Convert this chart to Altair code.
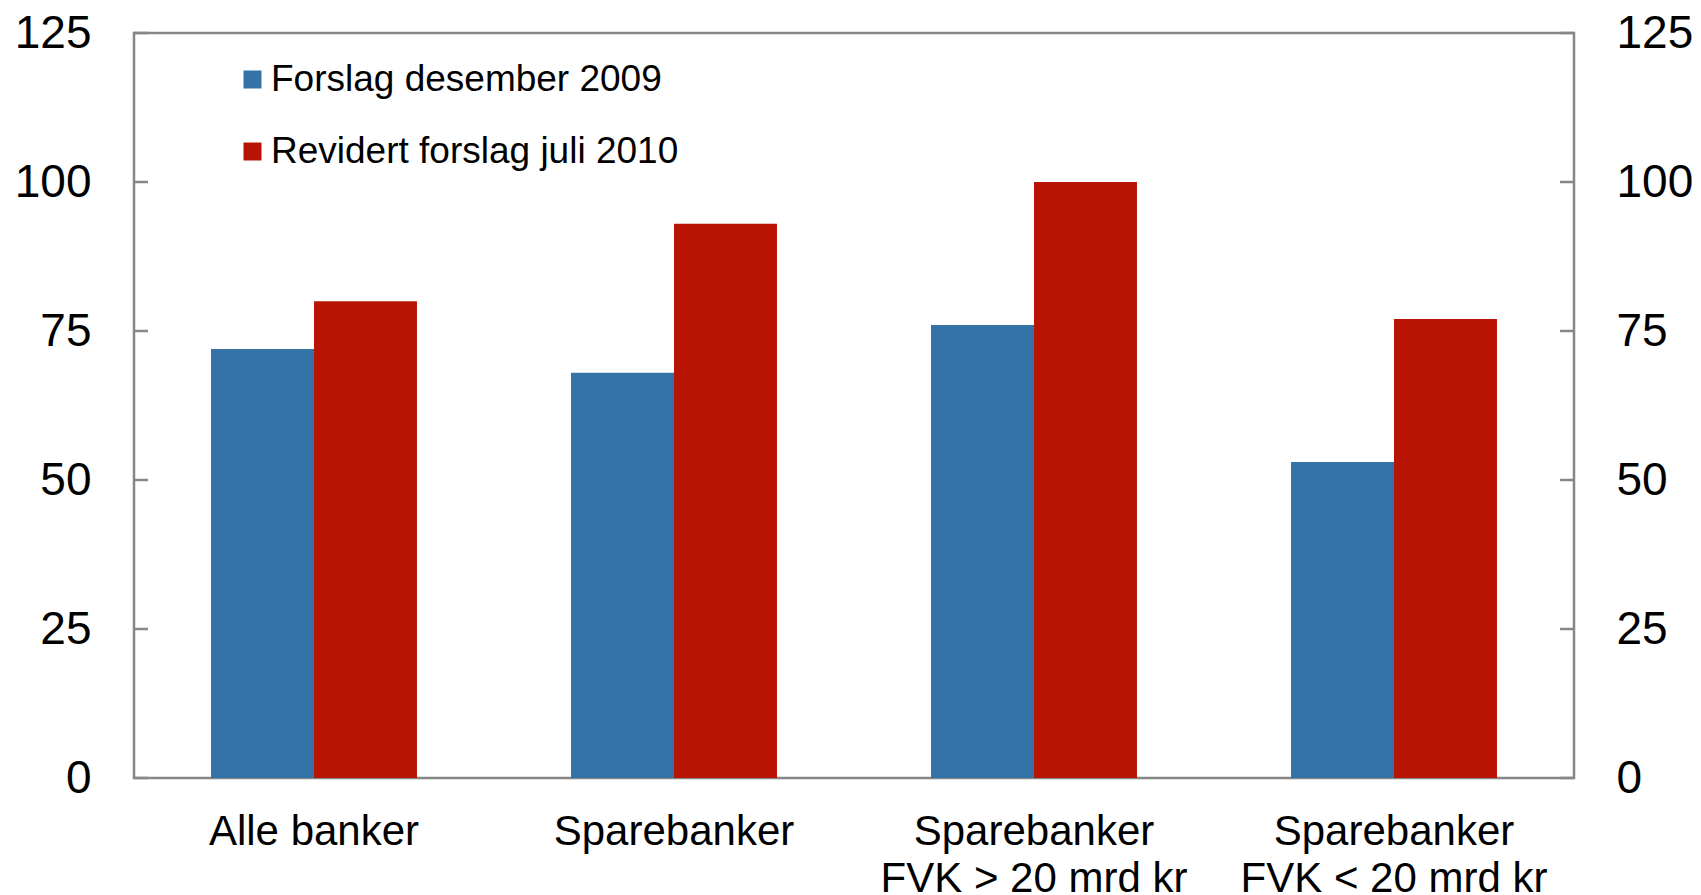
import altair as alt
import pandas as pd

categories = ["Alle banker", "Sparebanker", "Sparebanker\nFVK > 20 mrd kr", "Sparebanker\nFVK < 20 mrd kr"]
series = ["Forslag desember 2009", "Revidert forslag juli 2010"]
forslag_2009 = [72, 68, 76, 53]
revidert_2010 = [80, 93, 100, 77]
y_ticks = [0, 25, 50, 75, 100, 125]
colors = ["#3473A7", "#B81404"]

rows = []
for c, a, b in zip(categories, forslag_2009, revidert_2010):
    rows.append({"kategori": c, "serie": series[0], "verdi": a})
    rows.append({"kategori": c, "serie": series[1], "verdi": b})
df = pd.DataFrame(rows)
ticks_df = pd.DataFrame({"v": y_ticks})

FONT = "Liberation Sans"
GRAY = "#878787"
W, H = 1440, 745
yscale = alt.Scale(domain=[0, 125], nice=False, zero=True)

bars = alt.Chart(df).mark_bar().encode(
    x=alt.X("kategori:N", sort=categories,
            scale=alt.Scale(paddingInner=0, paddingOuter=0),
            axis=alt.Axis(title=None, labelAngle=0, ticks=False, domain=False,
                          labelFontSize=42, labelPadding=33, labelFont=FONT,
                          labelColor="black", labelLineHeight=47, labelLimit=0,
                          labelExpr="split(datum.label, '\\n')")),
    xOffset=alt.XOffset("serie:N", sort=series,
                        scale=alt.Scale(paddingInner=0, paddingOuter=0.748)),
    y=alt.Y("verdi:Q", scale=yscale,
            axis=alt.Axis(orient="left", values=y_ticks, ticks=False, tickSize=0,
                          domain=False, grid=False, title=None,
                          labelFontSize=46, labelPadding=43, labelFont=FONT,
                          labelColor="black")),
    color=alt.Color("serie:N", sort=series,
                    scale=alt.Scale(domain=series, range=colors),
                    legend=alt.Legend(title=None, orient="none", legendX=100, legendY=28,
                                      direction="vertical", symbolType="square",
                                      symbolSize=324, symbolStrokeWidth=0,
                                      labelFontSize=37, labelFont=FONT, labelColor="black",
                                      labelOffset=0, labelLimit=0, rowPadding=34, padding=0)),
)

left_ticks = alt.Chart(ticks_df).mark_rule(color=GRAY, strokeWidth=2.5).encode(
    x=alt.value(0), x2=alt.value(14),
    y=alt.Y("v:Q", scale=yscale, axis=None),
)

right_ticks = alt.Chart(ticks_df).mark_rule(color=GRAY, strokeWidth=2.5).encode(
    x=alt.value(W - 14), x2=alt.value(W),
    y=alt.Y("v:Q", scale=yscale,
            axis=alt.Axis(orient="right", values=y_ticks, ticks=False, tickSize=0,
                          domain=False, grid=False, title=None,
                          labelFontSize=46, labelPadding=42, labelFont=FONT,
                          labelColor="black")),
)

chart = alt.layer(bars, left_ticks, right_ticks).resolve_scale(
    y="shared"
).resolve_axis(
    y="independent"
).properties(
    width=W, height=H,
    background="white",
    autosize=alt.AutoSizeParams(type="none"),
    padding={"left": 126, "top": 25, "right": 119, "bottom": 114},
).configure_view(
    stroke=GRAY, strokeWidth=2.5
)

chart.save("out.html", embed_options={"renderer": "svg", "actions": False})
